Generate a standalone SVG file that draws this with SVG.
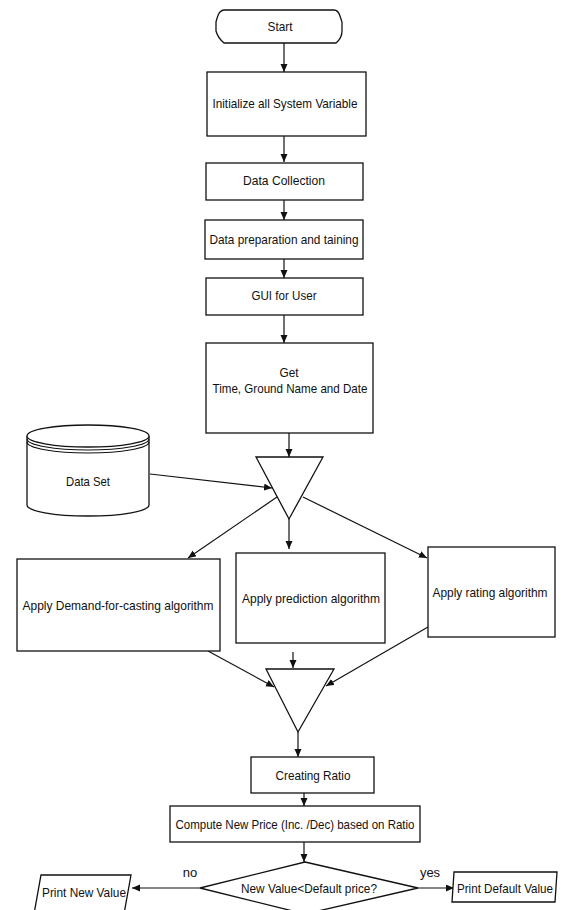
<svg xmlns="http://www.w3.org/2000/svg" width="563" height="910" viewBox="0 0 563 910">
<style>
.s{fill:#fff;stroke:#111;stroke-width:1.3}
.t{font-family:"Liberation Sans",Arial,sans-serif;font-size:13px;fill:#111;text-anchor:middle}
.c{fill:none;stroke:#111;stroke-width:1.2}
</style>
<defs>
<marker id="ah" markerUnits="userSpaceOnUse" markerWidth="9" markerHeight="8" refX="8" refY="3.5" orient="auto">
<path d="M0,0 L8,3.5 L0,7 z" fill="#111"/>
</marker>
</defs>
<rect width="563" height="910" fill="#fff"/>
<g id="connectors">
<line class="c" x1="284" y1="43" x2="284" y2="72" marker-end="url(#ah)"/>
<line class="c" x1="284" y1="136" x2="284" y2="162" marker-end="url(#ah)"/>
<line class="c" x1="284" y1="200" x2="284" y2="220" marker-end="url(#ah)"/>
<line class="c" x1="284" y1="259" x2="284" y2="278" marker-end="url(#ah)"/>
<line class="c" x1="284" y1="315" x2="284" y2="343" marker-end="url(#ah)"/>
<line class="c" x1="289" y1="433" x2="289" y2="457" marker-end="url(#ah)"/>
<line class="c" x1="150" y1="474" x2="272" y2="488" marker-end="url(#ah)"/>
<line class="c" x1="277" y1="497" x2="188" y2="558" marker-end="url(#ah)"/>
<line class="c" x1="289" y1="519" x2="289" y2="549" marker-end="url(#ah)"/>
<line class="c" x1="303" y1="497" x2="427" y2="558" marker-end="url(#ah)"/>
<line class="c" x1="208" y1="651" x2="274" y2="687" marker-end="url(#ah)"/>
<line class="c" x1="293" y1="652" x2="293" y2="668" marker-end="url(#ah)"/>
<line class="c" x1="428" y1="627" x2="326" y2="686" marker-end="url(#ah)"/>
<line class="c" x1="298" y1="732" x2="298" y2="757" marker-end="url(#ah)"/>
<line class="c" x1="304" y1="793" x2="304" y2="806" marker-end="url(#ah)"/>
<line class="c" x1="304" y1="842" x2="304" y2="862" marker-end="url(#ah)"/>
<line class="c" x1="200" y1="888" x2="132" y2="888" marker-end="url(#ah)"/>
<line class="c" x1="418" y1="888" x2="454" y2="888" marker-end="url(#ah)"/>
<text class="t" x="190" y="877">no</text>
<text class="t" x="430" y="877">yes</text>
</g>
<g id="start">
<path class="s" d="M224,10 L334,10 Q338,10 340,16 L342,22 L342,31 Q342,38 336,43 L224,43 Q218,38 216,31 L216,22 Q218,14 220,12 Q222,10 224,10 z"/>
<text class="t" x="280" y="31" textLength="25" lengthAdjust="spacingAndGlyphs">Start</text>
</g>
<g id="init">
<rect class="s" x="207" y="72" width="159" height="64"/>
<text class="t" x="285" y="108" textLength="145" lengthAdjust="spacingAndGlyphs">Initialize all System Variable</text>
</g>
<g id="collection">
<rect class="s" x="206" y="163" width="157" height="37"/>
<text class="t" x="284" y="185" textLength="82" lengthAdjust="spacingAndGlyphs">Data Collection</text>
</g>
<g id="preparation">
<rect class="s" x="205" y="220" width="158" height="39"/>
<text class="t" x="284" y="244" textLength="149" lengthAdjust="spacingAndGlyphs">Data preparation and taining</text>
</g>
<g id="gui">
<rect class="s" x="206" y="278" width="157" height="37"/>
<text class="t" x="284" y="300" textLength="65" lengthAdjust="spacingAndGlyphs">GUI for User</text>
</g>
<g id="get">
<rect class="s" x="206" y="343" width="167" height="90"/>
<text class="t" x="289" y="377" textLength="19" lengthAdjust="spacingAndGlyphs">Get</text>
<text class="t" x="290" y="393" textLength="155" lengthAdjust="spacingAndGlyphs">Time, Ground Name and Date</text>
</g>
<g id="dataset">
<path class="s" d="M27,436 L27,505 A61,11 0 0 0 149,505 L149,436"/>
<ellipse class="s" cx="88" cy="436" rx="61" ry="11"/>
<path class="c" d="M27,439 A61,11 0 0 0 149,439 M27,442 A61,11 0 0 0 149,442"/>
<text class="t" x="88" y="486" textLength="44" lengthAdjust="spacingAndGlyphs">Data Set</text>
</g>
<g id="merge1">
<polygon class="s" points="256,457 323,457 289,519"/>
</g>
<g id="demand">
<rect class="s" x="17" y="559" width="203" height="92"/>
<text class="t" x="118" y="610" textLength="191" lengthAdjust="spacingAndGlyphs">Apply Demand-for-casting algorithm</text>
</g>
<g id="prediction">
<rect class="s" x="236" y="553" width="149" height="90"/>
<text class="t" x="311" y="603" textLength="138" lengthAdjust="spacingAndGlyphs">Apply prediction algorithm</text>
</g>
<g id="rating">
<rect class="s" x="428" y="547" width="127" height="90"/>
<text class="t" x="490" y="597" textLength="115" lengthAdjust="spacingAndGlyphs">Apply rating algorithm</text>
</g>
<g id="merge2">
<polygon class="s" points="266,669 334,669 298,732"/>
</g>
<g id="ratio">
<rect class="s" x="251" y="757" width="123" height="36"/>
<text class="t" x="313" y="780" textLength="75" lengthAdjust="spacingAndGlyphs">Creating Ratio</text>
</g>
<g id="compute">
<rect class="s" x="170" y="806" width="250" height="36"/>
<text class="t" x="295" y="829" textLength="239" lengthAdjust="spacingAndGlyphs">Compute New Price (Inc. /Dec) based on Ratio</text>
</g>
<g id="decision">
<polygon class="s" points="305,862 418,888 305,914 200,888"/>
<text class="t" x="309" y="893" textLength="136" lengthAdjust="spacingAndGlyphs">New Value&lt;Default price?</text>
</g>
<g id="printnew">
<polygon class="s" points="41,875 131,875 124,914 34,914"/>
<text class="t" x="84" y="897" textLength="84" lengthAdjust="spacingAndGlyphs">Print New Value</text>
</g>
<g id="printdefault">
<polygon class="s" points="454,872 557,872 555,902 452,902"/>
<text class="t" x="505" y="893" textLength="96" lengthAdjust="spacingAndGlyphs">Print Default Value</text>
</g>
</svg>
